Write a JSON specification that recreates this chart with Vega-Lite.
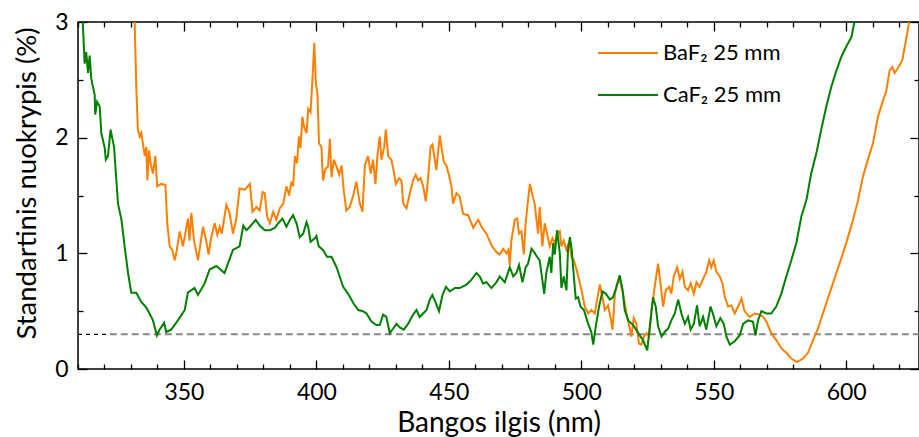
{
"$schema":"https://vega.github.io/schema/vega-lite/v6.json",
"width":841,"height":347,
"autosize":{"type":"none"},
"padding":{"left":78,"top":22,"right":0,"bottom":68},
"config":{"font":"Lato","view":{"stroke":"#000","strokeWidth":1.5},
 "axis":{"domain":false,"grid":false,"ticks":true,"zindex":2,"tickColor":"#000","tickWidth":1.3,"tickOpacity":1,"labelColor":"#000","titleColor":"#000","labelFontSize":23,"titleFontWeight":"normal","labelOverlap":false,"labelFlush":false,"labelFont":"Lato","titleFont":"Lato"}},
"datasets":{
"ba":[
{"x":331.4,"y":3.0},{"x":332,"y":2.44},{"x":332.6,"y":2.07},{"x":333.3,"y":2.01},{"x":333.9,"y":2.04},{"x":334.5,"y":1.95},{"x":335.2,"y":1.84},{"x":335.8,"y":1.92},{"x":336.2,"y":1.63},{"x":336.8,"y":1.89},{"x":337.4,"y":1.78},{"x":338.3,"y":1.69},{"x":339.2,"y":1.84},{"x":339.9,"y":1.58},{"x":341.4,"y":1.6},{"x":343,"y":1.59},{"x":343.7,"y":1.26},{"x":344.6,"y":1.06},{"x":345.6,"y":1.03},{"x":346.5,"y":0.94},{"x":347.1,"y":1.0},{"x":348.4,"y":1.19},{"x":349.6,"y":1.06},{"x":350.5,"y":1.17},{"x":351.5,"y":1.3},{"x":352.1,"y":1.11},{"x":352.8,"y":1.35},{"x":353.8,"y":1.11},{"x":355.3,"y":0.94},{"x":357.2,"y":1.23},{"x":358.4,"y":1.11},{"x":359.3,"y":0.99},{"x":360.3,"y":1.14},{"x":361.6,"y":1.26},{"x":362.6,"y":1.16},{"x":363.5,"y":1.23},{"x":364.3,"y":1.17},{"x":366,"y":1.42},{"x":367.2,"y":1.35},{"x":368.5,"y":1.17},{"x":369.7,"y":1.29},{"x":371,"y":1.56},{"x":373,"y":1.55},{"x":374.9,"y":1.6},{"x":375.9,"y":1.36},{"x":377.4,"y":1.4},{"x":378.6,"y":1.37},{"x":379.7,"y":1.53},{"x":380.5,"y":1.52},{"x":381.4,"y":1.32},{"x":382.4,"y":1.26},{"x":383.7,"y":1.36},{"x":384.9,"y":1.29},{"x":386.2,"y":1.39},{"x":387.5,"y":1.43},{"x":388.7,"y":1.58},{"x":389.7,"y":1.5},{"x":390.6,"y":1.62},{"x":391.2,"y":1.58},{"x":391.9,"y":1.84},{"x":392.7,"y":1.78},{"x":393.4,"y":2.01},{"x":394,"y":1.91},{"x":394.7,"y":2.18},{"x":395.4,"y":2.09},{"x":396.3,"y":2.04},{"x":396.9,"y":2.25},{"x":397.8,"y":2.22},{"x":398.5,"y":2.5},{"x":399.2,"y":2.82},{"x":399.8,"y":2.47},{"x":400.4,"y":2.38},{"x":401,"y":1.95},{"x":401.9,"y":1.92},{"x":402.5,"y":1.63},{"x":403.4,"y":1.73},{"x":404.4,"y":1.75},{"x":405.1,"y":1.99},{"x":405.7,"y":1.66},{"x":406.6,"y":1.81},{"x":407.6,"y":1.75},{"x":408.6,"y":1.68},{"x":409.5,"y":1.76},{"x":410.3,"y":1.55},{"x":411.3,"y":1.37},{"x":412.6,"y":1.4},{"x":413.9,"y":1.5},{"x":415.1,"y":1.62},{"x":416.4,"y":1.43},{"x":417.4,"y":1.36},{"x":418.3,"y":1.76},{"x":419.5,"y":1.84},{"x":420.5,"y":1.69},{"x":421.4,"y":1.81},{"x":422.3,"y":1.6},{"x":423.1,"y":1.86},{"x":423.9,"y":2.01},{"x":424.6,"y":1.81},{"x":425.6,"y":1.92},{"x":426.2,"y":2.07},{"x":427.1,"y":1.84},{"x":428.3,"y":1.81},{"x":429.2,"y":1.71},{"x":430,"y":1.6},{"x":431.2,"y":1.65},{"x":432.1,"y":1.63},{"x":432.8,"y":1.43},{"x":434,"y":1.39},{"x":435.3,"y":1.52},{"x":436.5,"y":1.63},{"x":437.5,"y":1.68},{"x":438.4,"y":1.63},{"x":439.3,"y":1.65},{"x":440.3,"y":1.58},{"x":441.3,"y":1.45},{"x":442.2,"y":1.66},{"x":443.1,"y":1.92},{"x":443.8,"y":1.94},{"x":444.7,"y":1.81},{"x":445.3,"y":1.72},{"x":446,"y":1.89},{"x":446.6,"y":2.02},{"x":447.2,"y":1.92},{"x":448.1,"y":1.79},{"x":449.1,"y":1.76},{"x":450,"y":1.68},{"x":451,"y":1.58},{"x":451.6,"y":1.43},{"x":452.9,"y":1.52},{"x":454.1,"y":1.49},{"x":455.4,"y":1.34},{"x":457.3,"y":1.33},{"x":459.2,"y":1.22},{"x":461.1,"y":1.29},{"x":462.3,"y":1.23},{"x":464.2,"y":1.17},{"x":466.1,"y":1.07},{"x":468,"y":1.01},{"x":469.2,"y":0.99},{"x":470.5,"y":1.04},{"x":471.8,"y":1.0},{"x":472.5,"y":1.03},{"x":473,"y":0.9},{"x":473.6,"y":1.11},{"x":474.9,"y":1.29},{"x":475.8,"y":1.3},{"x":476.5,"y":1.17},{"x":477.4,"y":1.19},{"x":478.3,"y":0.99},{"x":479,"y":1.26},{"x":479.9,"y":1.46},{"x":480.6,"y":1.6},{"x":481.6,"y":1.5},{"x":482.4,"y":1.43},{"x":483.1,"y":1.29},{"x":483.7,"y":1.17},{"x":484.3,"y":1.4},{"x":485.3,"y":1.06},{"x":486.2,"y":1.26},{"x":487.1,"y":1.17},{"x":488.1,"y":1.06},{"x":489.1,"y":1.13},{"x":490,"y":1.09},{"x":490.9,"y":1.17},{"x":491.9,"y":1.19},{"x":492.5,"y":1.06},{"x":493.4,"y":1.11},{"x":494.4,"y":1.03},{"x":495.4,"y":1.1},{"x":496.3,"y":0.97},{"x":497.2,"y":0.94},{"x":498.2,"y":0.86},{"x":499.2,"y":0.77},{"x":500.1,"y":0.68},{"x":501.3,"y":0.54},{"x":502.6,"y":0.48},{"x":503.8,"y":0.51},{"x":505.1,"y":0.48},{"x":506,"y":0.6},{"x":507,"y":0.73},{"x":508,"y":0.62},{"x":508.9,"y":0.51},{"x":510.1,"y":0.55},{"x":511,"y":0.45},{"x":511.8,"y":0.34},{"x":512.7,"y":0.65},{"x":513.5,"y":0.74},{"x":514.5,"y":0.77},{"x":515.8,"y":0.65},{"x":517.1,"y":0.48},{"x":518.1,"y":0.37},{"x":518.9,"y":0.28},{"x":519.8,"y":0.44},{"x":520.8,"y":0.39},{"x":521.8,"y":0.22},{"x":522.7,"y":0.21},{"x":523.6,"y":0.28},{"x":524.6,"y":0.31},{"x":525.6,"y":0.28},{"x":526.5,"y":0.51},{"x":527.7,"y":0.71},{"x":529,"y":0.91},{"x":529.9,"y":0.74},{"x":530.9,"y":0.54},{"x":531.9,"y":0.68},{"x":533.2,"y":0.71},{"x":534,"y":0.65},{"x":534.9,"y":0.8},{"x":536.2,"y":0.88},{"x":537.2,"y":0.78},{"x":538.2,"y":0.84},{"x":539.1,"y":0.71},{"x":540.3,"y":0.68},{"x":541.3,"y":0.74},{"x":542.5,"y":0.65},{"x":543.5,"y":0.75},{"x":544.7,"y":0.71},{"x":546,"y":0.78},{"x":547.2,"y":0.84},{"x":548.3,"y":0.94},{"x":549.1,"y":0.88},{"x":550,"y":0.94},{"x":551,"y":0.84},{"x":552.3,"y":0.8},{"x":553.3,"y":0.74},{"x":554.2,"y":0.62},{"x":555.4,"y":0.54},{"x":556.7,"y":0.55},{"x":557.9,"y":0.48},{"x":559.2,"y":0.54},{"x":560.5,"y":0.61},{"x":561.5,"y":0.51},{"x":562.3,"y":0.48},{"x":563.6,"y":0.45},{"x":565.5,"y":0.48},{"x":567.3,"y":0.47},{"x":568.6,"y":0.45},{"x":569.9,"y":0.41},{"x":571.7,"y":0.31},{"x":573.6,"y":0.25},{"x":575.5,"y":0.18},{"x":577.4,"y":0.14},{"x":579.3,"y":0.09},{"x":581.4,"y":0.06},{"x":583.7,"y":0.09},{"x":585.6,"y":0.14},{"x":587.5,"y":0.25},{"x":589.4,"y":0.35},{"x":591.2,"y":0.48},{"x":593.1,"y":0.61},{"x":595,"y":0.74},{"x":596.9,"y":0.87},{"x":598.8,"y":1.0},{"x":600.7,"y":1.14},{"x":602.6,"y":1.29},{"x":604.5,"y":1.46},{"x":606.3,"y":1.66},{"x":608.2,"y":1.81},{"x":610.1,"y":1.95},{"x":612,"y":2.18},{"x":613.9,"y":2.32},{"x":615.1,"y":2.4},{"x":616.4,"y":2.58},{"x":617.4,"y":2.61},{"x":618.3,"y":2.56},{"x":619.5,"y":2.6},{"x":621.2,"y":2.67},{"x":622.4,"y":2.82},{"x":623.8,"y":3.0}
],
"ca":[
{"x":311.8,"y":3.0},{"x":312.5,"y":2.64},{"x":313.1,"y":2.74},{"x":313.8,"y":2.56},{"x":314.4,"y":2.71},{"x":315,"y":2.51},{"x":316.3,"y":2.37},{"x":316.5,"y":2.2},{"x":317.2,"y":2.31},{"x":318.2,"y":2.27},{"x":318.8,"y":2.04},{"x":320.1,"y":1.91},{"x":320.5,"y":1.81},{"x":321.3,"y":1.84},{"x":322.3,"y":2.07},{"x":323.6,"y":1.92},{"x":325.1,"y":1.43},{"x":326.4,"y":1.29},{"x":327.6,"y":1.06},{"x":328.9,"y":0.83},{"x":330.1,"y":0.66},{"x":332,"y":0.66},{"x":333.9,"y":0.58},{"x":335.8,"y":0.53},{"x":337,"y":0.48},{"x":338.3,"y":0.42},{"x":339.8,"y":0.29},{"x":340.8,"y":0.34},{"x":342.5,"y":0.4},{"x":343.3,"y":0.32},{"x":345.2,"y":0.34},{"x":347.7,"y":0.42},{"x":350.3,"y":0.51},{"x":351.5,"y":0.66},{"x":354,"y":0.7},{"x":355.3,"y":0.64},{"x":357.8,"y":0.74},{"x":359.7,"y":0.86},{"x":362.2,"y":0.89},{"x":365.3,"y":0.83},{"x":368.5,"y":1.03},{"x":371,"y":1.06},{"x":372.4,"y":1.24},{"x":373.6,"y":1.2},{"x":374.9,"y":1.23},{"x":377.1,"y":1.29},{"x":378.6,"y":1.24},{"x":380.5,"y":1.2},{"x":382.4,"y":1.2},{"x":384.3,"y":1.22},{"x":385.6,"y":1.26},{"x":387.2,"y":1.3},{"x":388.7,"y":1.23},{"x":390,"y":1.29},{"x":391.2,"y":1.33},{"x":392.5,"y":1.26},{"x":393.7,"y":1.14},{"x":395,"y":1.17},{"x":396.3,"y":1.27},{"x":396.9,"y":1.23},{"x":397.8,"y":1.1},{"x":399.4,"y":1.13},{"x":400,"y":1.15},{"x":400.9,"y":1.06},{"x":402.5,"y":1.03},{"x":404,"y":0.97},{"x":405.7,"y":0.97},{"x":407.6,"y":0.88},{"x":408.8,"y":0.8},{"x":410.1,"y":0.71},{"x":412,"y":0.65},{"x":413.9,"y":0.57},{"x":415.8,"y":0.51},{"x":417.6,"y":0.5},{"x":418.9,"y":0.48},{"x":420.8,"y":0.41},{"x":422.7,"y":0.38},{"x":423.9,"y":0.38},{"x":425.2,"y":0.47},{"x":426.4,"y":0.45},{"x":427.7,"y":0.31},{"x":429,"y":0.35},{"x":430.2,"y":0.39},{"x":431.5,"y":0.36},{"x":433,"y":0.34},{"x":434.6,"y":0.39},{"x":436.5,"y":0.47},{"x":437.8,"y":0.51},{"x":439,"y":0.45},{"x":440.3,"y":0.48},{"x":441.6,"y":0.51},{"x":442.8,"y":0.6},{"x":443.8,"y":0.64},{"x":445.1,"y":0.57},{"x":446.3,"y":0.5},{"x":447.6,"y":0.64},{"x":448.9,"y":0.71},{"x":450.4,"y":0.67},{"x":452.3,"y":0.7},{"x":454.1,"y":0.7},{"x":456.7,"y":0.73},{"x":458.5,"y":0.77},{"x":460.4,"y":0.83},{"x":461.7,"y":0.8},{"x":462.9,"y":0.74},{"x":464.2,"y":0.75},{"x":466.1,"y":0.7},{"x":468,"y":0.75},{"x":469.2,"y":0.8},{"x":471.1,"y":0.75},{"x":473,"y":0.88},{"x":474.3,"y":0.8},{"x":475.5,"y":0.83},{"x":476.5,"y":0.9},{"x":477.8,"y":0.75},{"x":479,"y":0.88},{"x":479.9,"y":0.91},{"x":481.2,"y":1.04},{"x":482.2,"y":1.01},{"x":483.3,"y":0.97},{"x":484.3,"y":0.94},{"x":485.3,"y":0.77},{"x":486,"y":0.65},{"x":486.8,"y":0.83},{"x":488.1,"y":0.97},{"x":488.7,"y":0.83},{"x":489.4,"y":1.09},{"x":490,"y":0.99},{"x":490.9,"y":1.2},{"x":491.9,"y":1.0},{"x":492.5,"y":0.7},{"x":493.4,"y":0.8},{"x":494.4,"y":0.68},{"x":495,"y":1.03},{"x":495.7,"y":1.14},{"x":496.4,"y":1.03},{"x":497.2,"y":0.8},{"x":497.9,"y":0.61},{"x":498.8,"y":0.62},{"x":499.7,"y":0.54},{"x":501,"y":0.51},{"x":502.6,"y":0.39},{"x":503.8,"y":0.32},{"x":504.5,"y":0.21},{"x":505.5,"y":0.37},{"x":506.7,"y":0.54},{"x":508,"y":0.67},{"x":509.3,"y":0.65},{"x":510.8,"y":0.6},{"x":512,"y":0.62},{"x":513.3,"y":0.71},{"x":514.5,"y":0.81},{"x":515.5,"y":0.7},{"x":516.4,"y":0.51},{"x":517.7,"y":0.42},{"x":519.6,"y":0.38},{"x":521.5,"y":0.31},{"x":523.3,"y":0.25},{"x":524.9,"y":0.16},{"x":525.9,"y":0.37},{"x":527.1,"y":0.62},{"x":528.1,"y":0.54},{"x":529,"y":0.37},{"x":530.3,"y":0.28},{"x":531.5,"y":0.32},{"x":532.8,"y":0.35},{"x":534,"y":0.42},{"x":535.3,"y":0.48},{"x":536.6,"y":0.6},{"x":537.8,"y":0.48},{"x":539.1,"y":0.39},{"x":540.3,"y":0.45},{"x":541.3,"y":0.34},{"x":542.5,"y":0.39},{"x":543.7,"y":0.55},{"x":544.7,"y":0.37},{"x":546,"y":0.45},{"x":547.2,"y":0.34},{"x":548.8,"y":0.54},{"x":549.8,"y":0.47},{"x":551,"y":0.37},{"x":552.5,"y":0.44},{"x":553.8,"y":0.39},{"x":554.8,"y":0.28},{"x":556.1,"y":0.21},{"x":557.9,"y":0.24},{"x":559.8,"y":0.29},{"x":561.1,"y":0.39},{"x":563,"y":0.42},{"x":564.8,"y":0.41},{"x":565.8,"y":0.29},{"x":566.7,"y":0.42},{"x":568,"y":0.5},{"x":569.9,"y":0.48},{"x":571.7,"y":0.48},{"x":573.6,"y":0.54},{"x":575.5,"y":0.65},{"x":577.4,"y":0.8},{"x":579.3,"y":0.94},{"x":581.2,"y":1.09},{"x":583.1,"y":1.32},{"x":585,"y":1.46},{"x":586.8,"y":1.69},{"x":588.7,"y":1.86},{"x":590.6,"y":2.07},{"x":592.5,"y":2.27},{"x":594.4,"y":2.44},{"x":596.3,"y":2.58},{"x":598.2,"y":2.7},{"x":600.1,"y":2.79},{"x":602,"y":2.87},{"x":603.1,"y":3.0}
],
"ref":[{"a":310,"b":322,"y":0.3,"p":"left"},{"a":322,"b":627.5,"y":0.3,"p":"right"}]
},
"layer":[
{"data":{"name":"ref"},"transform":[{"filter":"datum.p === 'left'"}],
 "mark":{"type":"rule","stroke":"#000","strokeWidth":1.2,"strokeDash":[4,4]},
 "encoding":{
  "x":{"field":"a","type":"quantitative","scale":{"domain":[310,627.5],"nice":false,"zero":false},
   "axis":{"orient":"bottom","offset":-9,"title":"Bangos ilgis (nm)","titleFontSize":28,"titleY":71,"titleBaseline":"alphabetic","values":[350,400,450,500,550,600],
    "tickSize":9,"labelPadding":12}},
  "x2":{"field":"b"},
  "y":{"field":"y","type":"quantitative","scale":{"domain":[0,3],"nice":false},
   "axis":{"orient":"left","offset":-9,"title":"Standartinis nuokrypis (%)","titleFontSize":27.5,"titleY":161,"titleX":-52,"titleBaseline":"alphabetic","values":[0,1,2,3],"format":"d",
    "tickSize":9,"labelPadding":10}}
 }},
{"data":{"name":"ref"},"transform":[{"filter":"datum.p === 'right'"}],
 "mark":{"type":"rule","stroke":"#888888","strokeWidth":2,"strokeDash":[7,4]},
 "encoding":{
  "x":{"field":"a","type":"quantitative",
   "axis":{"orient":"bottom","offset":-5,"title":null,"labels":false,"tickSize":5,"values":[310,320,330,340,360,370,380,390,410,420,430,440,460,470,480,490,510,520,530,540,560,570,580,590,610,620]}},
  "x2":{"field":"b"},
  "y":{"field":"y","type":"quantitative",
   "axis":{"orient":"left","offset":-5,"title":null,"labels":false,"tickSize":5,"values":[0.5,1.5,2.5]}}
 }},
{"data":{"name":"ba"},
 "mark":{"type":"line","strokeWidth":2},
 "encoding":{
  "x":{"field":"x","type":"quantitative",
   "axis":{"orient":"top","offset":-9,"title":null,"labels":false,"tickSize":9,"values":[350,400,450,500,550,600]}},
  "y":{"field":"y","type":"quantitative",
   "axis":{"orient":"right","offset":-9,"title":null,"labels":false,"tickSize":9,"values":[0,1,2,3]}},
  "color":{"datum":"BaF₂ 25 mm","type":"nominal",
   "scale":{"domain":["BaF₂ 25 mm","CaF₂ 25 mm"],"range":["#FF7F00","#008000"]},
   "legend":{"orient":"none","legendX":539,"legendY":20,"title":null,"symbolType":"M-3,0H3","symbolSize":400,"symbolStrokeWidth":2,"labelFontSize":22,"labelFont":"Lato","labelColor":"#000","labelOffset":24,"rowPadding":20}}
 }},
{"data":{"name":"ca"},
 "mark":{"type":"line","strokeWidth":2},
 "encoding":{
  "x":{"field":"x","type":"quantitative",
   "axis":{"orient":"top","offset":-5,"title":null,"labels":false,"tickSize":5,"values":[310,320,330,340,360,370,380,390,410,420,430,440,460,470,480,490,510,520,530,540,560,570,580,590,610,620]}},
  "y":{"field":"y","type":"quantitative",
   "axis":{"orient":"right","offset":-5,"title":null,"labels":false,"tickSize":5,"values":[0.5,1.5,2.5]}},
  "color":{"datum":"CaF₂ 25 mm","type":"nominal"}
 }}
],
"resolve":{"axis":{"x":"independent","y":"independent"}}
}
